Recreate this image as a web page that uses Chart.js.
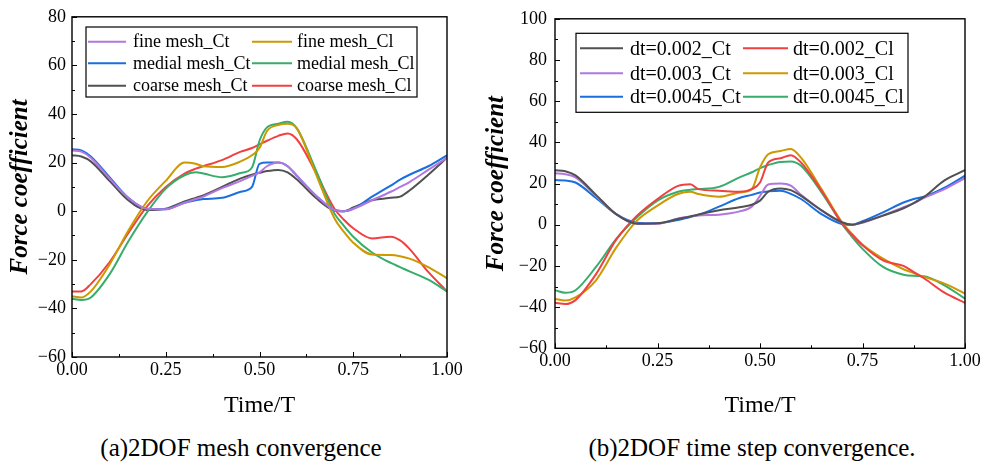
<!DOCTYPE html>
<html lang="en">
<head>
    <meta charset="UTF-8">
    <title>2DOF convergence</title>
    <script src="https://cdn.jsdelivr.net/npm/chart.js@4.4.0/dist/chart.umd.min.js"></script>
    <style>
        body {
            margin: 0;
            background: #ffffff;
            font-family: "Liberation Serif", "Times New Roman", serif;
        }
        #page {
            position: relative;
            width: 984px;
            height: 468px;
            overflow: hidden;
        }
        canvas {
            position: absolute;
            top: 0;
        }
        .caption {
            position: absolute;
            top: 434px;
            font-size: 25px;
            color: #000;
            white-space: nowrap;
            transform: translateX(-50%);
        }
    </style>
</head>
<body>
<div id="page">
    <canvas id="chartA" width="476" height="420" style="left:0"></canvas>
    <canvas id="chartB" width="508" height="420" style="left:476px"></canvas>
    <div class="caption" style="left:241px">(a)2DOF mesh convergence</div>
    <div class="caption" style="left:752px">(b)2DOF time step convergence.</div>
</div>

<script>
    // Time/T sample points shared by every curve
    const T = [0, 0.025, 0.05, 0.1, 0.15, 0.2, 0.25, 0.3, 0.33, 0.35, 0.4, 0.45, 0.48, 0.5,
               0.52, 0.55, 0.575, 0.6, 0.65, 0.7, 0.725, 0.75, 0.8, 0.85, 0.875, 0.9, 0.95, 1.0];

    // (a) mesh convergence
    const fineCt    = [25, 24.5, 22, 13.5, 5.5, 1, 0.8, 3.5, 5, 6, 9.5, 12.5, 14.5, 16, 18.5, 20, 18.5, 14.5, 6.5, 0.5, 0, 1, 4.5, 8, 10, 12, 17, 22];
    const fineCl    = [-35, -35.5, -33, -22, -8, 4, 12.5, 20, 19.5, 18.5, 18.2, 20.5, 23, 26, 33, 35.5, 36, 34, 15.5, -3, -8.5, -13, -17.8, -18, -18.5, -19.5, -23, -27.6];
    const medialCt  = [25.5, 25, 22.5, 14, 5.5, 1, 0.8, 3.5, 4.5, 5, 5.5, 8, 10, 19.5, 20, 20, 18.5, 14.5, 6.5, 0.5, 0, 1, 6, 10.5, 13, 15, 18.5, 23];
    const medialCl  = [-36, -36.5, -35.5, -26, -12.5, -0.5, 9.3, 14.8, 16, 15.5, 14, 15.7, 18, 29, 34.5, 36, 36.8, 34, 17, -1, -6, -10.5, -17, -21.3, -23, -24.8, -28.2, -33];
    const coarseCt  = [23, 22.5, 20.5, 12.5, 4.5, 0.5, 1, 4, 5.5, 6.5, 10, 13.5, 15, 15.8, 16.5, 17, 16, 13, 5.5, 0.3, 0, 1.5, 4.5, 5.5, 6, 8.5, 15, 22];
    const coarseCl  = [-33, -33, -30, -21, -9, 2, 10, 15.5, 17.5, 18.5, 21, 24.5, 26, 27.5, 29, 31, 32, 29.5, 16, 1, -3.5, -7, -11.2, -10.5, -12, -15.5, -25, -33];

    // (b) time step convergence
    const dt002Ct  = [26.5, 26, 24, 14.5, 5, 0.5, 0.7, 2.8, 4, 5, 7, 8.5, 9.7, 11.7, 16, 17.6, 16.8, 14, 7, 1.2, 0, 1.2, 4.4, 8, 10.5, 13.5, 21.5, 26.5];
    const dt002Cl  = [-37.9, -38.5, -36.6, -24, -7, 4.4, 12.5, 18.9, 19.7, 17.3, 16.5, 16, 17.3, 20.5, 30.2, 32.3, 33.8, 30.2, 16.5, 0.7, -5, -10, -17.3, -20, -23, -26, -33, -37.9];
    const dt003Ct  = [25, 24.5, 23, 14, 5, 0.5, 0.5, 3, 4, 4.5, 4.9, 6.5, 8.8, 14, 19.5, 20, 19, 14.5, 7, 1, 0, 1, 4.5, 8.5, 10.5, 13, 17.3, 22.6];
    const dt003Cl  = [-36, -36.8, -35.3, -27, -10.9, 2, 9.3, 14.9, 16, 14.9, 13.6, 15.7, 17.3, 27.8, 34.2, 35.8, 36.8, 32.6, 17.3, 1.2, -4.5, -9.6, -16.5, -21.6, -23.5, -25.3, -28.6, -33.4];
    const dt0045Ct = [21.7, 21.5, 20.5, 13, 5, 1, 0.7, 2.3, 3.8, 4.8, 8.8, 13, 14.5, 15.7, 16.2, 16.5, 15, 12.5, 5.2, 0.4, 0, 1.7, 6, 10.8, 12.5, 13.6, 18, 23.8];
    const dt0045Cl = [-31.8, -33, -31.8, -20.5, -6.8, 3.6, 11.7, 16, 17, 17.3, 18.4, 23, 25.5, 27.5, 29, 30.5, 30.7, 28.6, 15.7, 0.4, -6, -11.7, -20.5, -24.3, -24.8, -25, -29.4, -35.9];

    const xTicks = [0, 0.25, 0.5, 0.75, 1.0];

    // Origin style colours
    const GRAY = '#515151', RED = '#F14040', BLUE = '#1A6FDF',
          GREEN = '#37AD6B', PURPLE = '#B177DE', GOLD = '#CC9900';

    const SERIF = '"Liberation Serif", "Times New Roman", serif';
    Chart.defaults.font.family = SERIF;
    Chart.defaults.color = '#000';

    const toPoints = vals => T.map((t, i) => ({ x: t, y: vals[i] }));

    const series = (label, vals, color) => ({
        label: label,
        data: toPoints(vals),
        borderColor: color,
        backgroundColor: color,
        borderWidth: 2,
        pointRadius: 0,
        fill: false,
        cubicInterpolationMode: 'monotone'
    });

    // frame, inward ticks and the boxed two-column legend
    const originFrame = {
        id: 'originFrame',
        afterDraw(chart, args, opts) {
            const { ctx, chartArea: a, scales: { x, y } } = chart;
            ctx.save();
            ctx.strokeStyle = '#000';
            ctx.lineWidth = 1;
            for (let v = y.min; v <= y.max + 0.001; v += 10) {
                const py = Math.round(y.getPixelForValue(v)) + 0.5;
                const len = Math.round(v) % 20 === 0 ? 5 : 3;
                ctx.beginPath();
                ctx.moveTo(a.left, py);
                ctx.lineTo(a.left + len, py);
                ctx.stroke();
            }
            for (let i = 0; i <= 8; i++) {
                const px = Math.round(x.getPixelForValue(i * 0.125)) + 0.5;
                const len = i % 2 === 0 ? 5 : 3;
                ctx.beginPath();
                ctx.moveTo(px, a.bottom);
                ctx.lineTo(px, a.bottom - len);
                ctx.stroke();
            }
            ctx.lineWidth = 1.4;
            ctx.strokeRect(a.left, a.top, a.right - a.left, a.bottom - a.top);

            // legend
            const L = opts;
            ctx.lineWidth = 1.2;
            ctx.strokeRect(L.box[0], L.box[1], L.box[2], L.box[3]);
            ctx.font = L.fontSize + 'px ' + SERIF;
            ctx.textBaseline = 'middle';
            ctx.textAlign = 'left';
            chart.data.datasets.forEach((ds, i) => {
                const row = Math.floor(i / 2), col = i % 2;
                const c = L.cols[col];
                const ry = L.rows[row];
                ctx.strokeStyle = ds.borderColor;
                ctx.lineWidth = 2;
                ctx.beginPath();
                ctx.moveTo(c[0], ry);
                ctx.lineTo(c[1], ry);
                ctx.stroke();
                ctx.fillStyle = '#000';
                ctx.fillText(ds.label, c[2], ry + 1);
            });
            ctx.restore();
        }
    };

    function makeChart(id, datasets, yMin, yMax, opt) {
        return new Chart(document.getElementById(id), {
            type: 'line',
            data: { datasets: datasets },
            options: {
                responsive: false,
                animation: false,
                layout: { padding: { top: opt.top, right: opt.right, left: 0, bottom: 0 } },
                plugins: {
                    legend: { display: false },
                    tooltip: { enabled: false },
                    originFrame: opt.legend
                },
                scales: {
                    x: {
                        type: 'linear',
                        min: 0,
                        max: 1,
                        afterBuildTicks: s => { s.ticks = xTicks.map(v => ({ value: v })); },
                        ticks: {
                            padding: 2,
                            font: { family: SERIF, size: 18 },
                            callback: v => Number(v).toFixed(2)
                        },
                        grid: { display: false, drawTicks: false },
                        border: { display: false },
                        title: {
                            display: true,
                            text: 'Time/T',
                            font: { family: SERIF, size: 24 },
                            padding: { top: 0, bottom: 0 }
                        },
                        afterFit: s => { s.height = opt.xHeight; }
                    },
                    y: {
                        min: yMin,
                        max: yMax,
                        ticks: {
                            stepSize: 20,
                            padding: opt.yPad,
                            font: { family: SERIF, size: 18 },
                            callback: v => String(v).replace('-', '\u2212')
                        },
                        grid: { display: false, drawTicks: false },
                        border: { display: false },
                        title: {
                            display: true,
                            text: 'Force coefficient',
                            font: { family: SERIF, size: 25, weight: 'bold', style: 'italic' },
                            padding: { top: 6, bottom: 0 }
                        },
                        afterFit: s => { s.width = opt.yWidth; }
                    }
                }
            },
            plugins: [originFrame]
        });
    }

    makeChart('chartA', [
        series('fine mesh_Ct', fineCt, PURPLE),
        series('fine mesh_Cl', fineCl, GOLD),
        series('medial mesh_Ct', medialCt, BLUE),
        series('medial mesh_Cl', medialCl, GREEN),
        series('coarse mesh_Ct', coarseCt, GRAY),
        series('coarse mesh_Cl', coarseCl, RED)
    ], -60, 80, {
        top: 16, right: 29, xHeight: 63, yWidth: 72, yPad: 6,
        legend: {
            box: [86, 27, 331, 70],
            rows: [41.7, 63.3, 85.7],
            cols: [[88, 126, 133], [252, 292, 297]],
            fontSize: 18
        }
    });

    makeChart('chartB', [
        series('dt=0.002_Ct', dt002Ct, GRAY),
        series('dt=0.002_Cl', dt002Cl, RED),
        series('dt=0.003_Ct', dt003Ct, PURPLE),
        series('dt=0.003_Cl', dt003Cl, GOLD),
        series('dt=0.0045_Ct', dt0045Ct, BLUE),
        series('dt=0.0045_Cl', dt0045Cl, GREEN)
    ], -60, 100, {
        top: 17.3, right: 19, xHeight: 71.7, yWidth: 79, yPad: 8,
        legend: {
            box: [100, 33.3, 332, 79],
            rows: [48.3, 73.3, 96.7],
            cols: [[104, 147, 154], [267, 312, 317]],
            fontSize: 20
        }
    });
</script>
</body>
</html>
